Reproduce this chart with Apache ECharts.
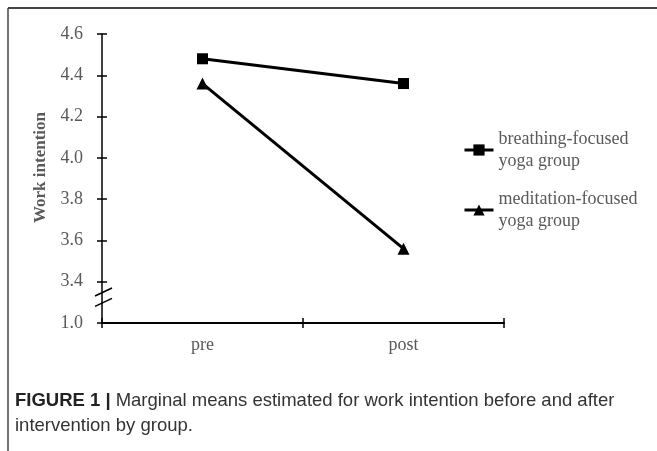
<!DOCTYPE html>
<html>
<head>
<meta charset="utf-8">
<script src="https://cdn.jsdelivr.net/npm/echarts@6/dist/echarts.min.js"></script>
<style>
  html, body { margin: 0; padding: 0; background: #fff; }
  #main { width: 657px; height: 451px; }
</style>
</head>
<body>
<div id="main"></div>
<script>
// categories and values
const phases = ['pre', 'post']
const breathing = [4.48, 4.36]
const meditation = [4.36, 3.56]
const seriesNames = ['breathing-focused\nyoga group', 'meditation-focused\nyoga group']
// the lowest tick stands for 1.0 (axis is broken between 1.0 and 3.4)
const yMin = 3.2
const yMax = 4.6
const yStep = 0.2
const breakLabel = '1.0'

const gridLeft = 102
const serif = '"Liberation Serif", "DejaVu Serif", serif'
const sans = '"Liberation Sans Narrow", "Liberation Sans", sans-serif'
const grey = '#595959'

const yLabel = v => (Math.abs(v - yMin) < 1e-6 ? breakLabel : v.toFixed(1))

const chart = echarts.init(document.getElementById('main'))

const legendText = {
  fontFamily: serif,
  fontSize: 18,
  color: grey,
  lineHeight: 22,
  padding: [22, 0, 0, 0]
}

const option = {
  animation: false,
  grid: { left: gridLeft, right: 153, top: 34, bottom: 128 },
  title: {
    left: 10,
    top: 383,
    text: '{b|FIGURE 1 |} {n|Marginal means estimated for work intention before and after}\n{n|intervention by group.}',
    textStyle: {
      fontWeight: 'normal',
      rich: {
        b: { fontFamily: sans, fontWeight: 'bold', fontSize: 18.5, color: '#222', lineHeight: 25 },
        n: { fontFamily: sans, fontWeight: 'normal', fontSize: 18.5, color: '#333', lineHeight: 25 }
      }
    }
  },
  legend: [
    {
      data: [seriesNames[0]],
      left: 463,
      top: 117,
      padding: 0,
      itemWidth: 29,
      itemHeight: 14,
      lineStyle: { width: 3 },
      textStyle: legendText
    },
    {
      data: [seriesNames[1]],
      left: 463,
      top: 177,
      padding: 0,
      itemWidth: 29,
      itemHeight: 14,
      lineStyle: { width: 3 },
      textStyle: legendText
    }
  ],
  xAxis: [
    {
      type: 'category',
      data: phases,
      boundaryGap: true,
      axisLine: { lineStyle: { color: '#000', width: 2 } },
      axisTick: { show: true, length: 5, lineStyle: { color: '#000', width: 1.5 } },
      axisLabel: { fontFamily: serif, fontSize: 18, color: grey, margin: 13 }
    },
    {
      type: 'category',
      data: phases,
      position: 'bottom',
      boundaryGap: true,
      axisLine: { show: false },
      axisTick: { show: true, inside: true, length: 5, lineStyle: { color: '#000', width: 1.5 } },
      axisLabel: { show: false }
    }
  ],
  yAxis: [
    {
      type: 'value',
      min: yMin,
      max: yMax,
      interval: yStep,
      name: 'Work intention',
      nameLocation: 'middle',
      nameGap: 50,
      nameTextStyle: { fontFamily: serif, fontSize: 17, fontWeight: 'bold', color: grey, padding: [0, 0, 0, 22] },
      splitLine: { show: false },
      axisLine: { show: true, lineStyle: { color: '#000', width: 1.5 } },
      axisTick: { show: true, length: 5, lineStyle: { color: '#000', width: 1.5 } },
      axisLabel: { fontFamily: serif, fontSize: 18, color: grey, margin: 19, formatter: yLabel }
    },
    {
      type: 'value',
      min: yMin,
      max: yMax,
      interval: yStep,
      position: 'left',
      splitLine: { show: false },
      axisLine: { show: false },
      axisTick: { show: true, inside: true, length: 5, lineStyle: { color: '#000', width: 1.5 } },
      axisLabel: { show: false }
    }
  ],
  series: [
    {
      name: seriesNames[0],
      type: 'line',
      data: breathing,
      symbol: 'rect',
      symbolSize: 11,
      itemStyle: { color: '#000' },
      lineStyle: { color: '#000', width: 3 }
    },
    {
      name: seriesNames[1],
      type: 'line',
      data: meditation,
      symbol: 'triangle',
      symbolSize: 12,
      itemStyle: { color: '#000' },
      lineStyle: { color: '#000', width: 3 }
    }
  ]
}

chart.setOption(option)

// frame lines and the axis-break slashes
const yA = chart.convertToPixel({ yAxisIndex: 0 }, 3.35)
const yB = chart.convertToPixel({ yAxisIndex: 0 }, 3.3)
chart.setOption({
  graphic: [
    { type: 'line', shape: { x1: 8, y1: 8, x2: 657, y2: 8 }, style: { stroke: '#444', lineWidth: 2 } },
    { type: 'line', shape: { x1: 8, y1: 8, x2: 8, y2: 451 }, style: { stroke: '#444', lineWidth: 1.5 } },
    { type: 'line', shape: { x1: gridLeft - 7, y1: yA + 4, x2: gridLeft + 10, y2: yA - 4 }, style: { stroke: '#000', lineWidth: 1.5 } },
    { type: 'line', shape: { x1: gridLeft - 7, y1: yB + 4, x2: gridLeft + 10, y2: yB - 4 }, style: { stroke: '#000', lineWidth: 1.5 } }
  ]
})
</script>
</body>
</html>
